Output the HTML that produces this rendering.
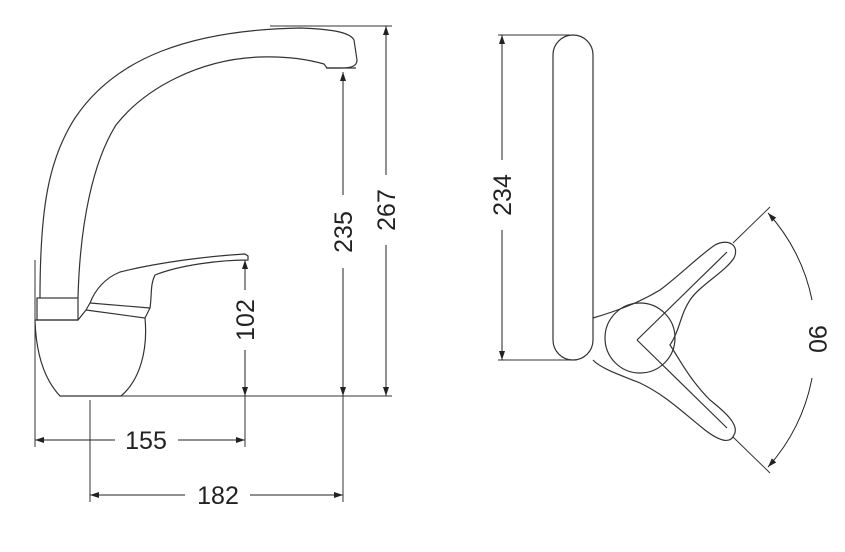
<!DOCTYPE html>
<html><head><meta charset="utf-8"><style>
html,body{margin:0;padding:0;background:#fff;}
svg{display:block;}
text{font-family:"Liberation Sans",sans-serif;font-size:25px;fill:#222;}
</style></head><body>
<svg width="845" height="552" viewBox="0 0 845 552" xmlns="http://www.w3.org/2000/svg">
<defs>
<marker id="a" markerWidth="10" markerHeight="10" refX="9" refY="5" orient="auto" markerUnits="userSpaceOnUse">
<path d="M0,2 L9,5 L0,8 Z" fill="#222"/></marker>
</defs>
<g fill="none" stroke="#333" stroke-width="1.2">
<!-- spout -->
<path d="M40,298 C40,210 48,160 75,118 C115,58 190,30 300,28 C330,29 350,32 354,40 L357,60 C357,66 352,68 340,68 L327,68 L324,64 C310,60 290,56 260,57 C200,59 145,88 116,125 C94,160 80,220 78,298"/>
<path d="M326,68 L356,68"/>
<!-- collar -->
<rect x="37" y="298" width="41" height="22"/>
<!-- base -->
<path d="M35,320 L78,320 L86,310 M86,310 L145,318 C148,350 140,380 121,396 L60,396 C45,380 36,355 35,320"/>
<!-- handle -->
<path d="M90,303 C95,290 105,278 120,272 C160,262 210,256 245,254 L248,256 L248,260 C220,260 180,265 155,275 C150,285 152,295 150,308 L145,318"/>
<path d="M90,303 L150,308"/>
<path d="M86,310 L90,303"/>
<!-- side view spout -->
<rect x="553" y="35" width="40" height="325" rx="20" ry="20"/>
<!-- circle -->
<circle cx="640" cy="338" r="35"/>
<!-- levers -->
<path d="M593,318 C620,310 640,302 660,290 C680,275 700,255 715,245 C728,238 740,245 734,258 C725,272 700,285 690,300 C680,315 680,330 670,345 C680,360 690,380 710,400 C725,412 740,425 734,435 C730,445 718,440 705,430 C680,410 665,395 640,383 C620,375 600,368 593,360"/>
<path d="M637,340 L727,252"/>
<path d="M637,340 L727,428"/>
</g>
<g stroke="#333" stroke-width="1">
<line x1="270" y1="26" x2="392" y2="26"/>
<line x1="60" y1="396" x2="392" y2="396"/>
<line x1="35" y1="260" x2="35" y2="447"/>
<line x1="90" y1="400" x2="90" y2="502"/>
<line x1="245" y1="396" x2="245" y2="447"/>
<line x1="343" y1="396" x2="343" y2="502"/>
<line x1="498" y1="35" x2="570" y2="35"/>
<line x1="498" y1="360" x2="570" y2="360"/>
<line x1="733" y1="243" x2="770" y2="207"/>
<line x1="733" y1="437" x2="770" y2="473"/>
</g>
<g stroke="#222" stroke-width="1" fill="none">
<line x1="245" y1="290" x2="245" y2="260" marker-end="url(#a)"/>
<line x1="245" y1="350" x2="245" y2="396" marker-end="url(#a)"/>
<line x1="343" y1="195" x2="343" y2="72" marker-end="url(#a)"/>
<line x1="343" y1="268" x2="343" y2="396" marker-end="url(#a)"/>
<line x1="386" y1="175" x2="386" y2="26" marker-end="url(#a)"/>
<line x1="386" y1="245" x2="386" y2="396" marker-end="url(#a)"/>
<line x1="115" y1="440" x2="35" y2="440" marker-end="url(#a)"/>
<line x1="178" y1="440" x2="245" y2="440" marker-end="url(#a)"/>
<line x1="185" y1="495" x2="90" y2="495" marker-end="url(#a)"/>
<line x1="250" y1="495" x2="343" y2="495" marker-end="url(#a)"/>
<line x1="502" y1="160" x2="502" y2="35" marker-end="url(#a)"/>
<line x1="502" y1="230" x2="502" y2="360" marker-end="url(#a)"/>
<path d="M812,300 A182,182 0 0 0 768,213" marker-end="url(#a)"/>
<path d="M812,378 A182,182 0 0 1 768,467" marker-end="url(#a)"/>
</g>
<text transform="translate(254,320) rotate(-90)" text-anchor="middle">102</text>
<text transform="translate(352,232) rotate(-90)" text-anchor="middle">235</text>
<text transform="translate(395,210) rotate(-90)" text-anchor="middle">267</text>
<text transform="translate(511,195) rotate(-90)" text-anchor="middle">234</text>
<text transform="translate(809,339) rotate(90)" text-anchor="middle">90</text>
<text x="146" y="449" text-anchor="middle">155</text>
<text x="218" y="504" text-anchor="middle">182</text>
</svg>
</body></html>
